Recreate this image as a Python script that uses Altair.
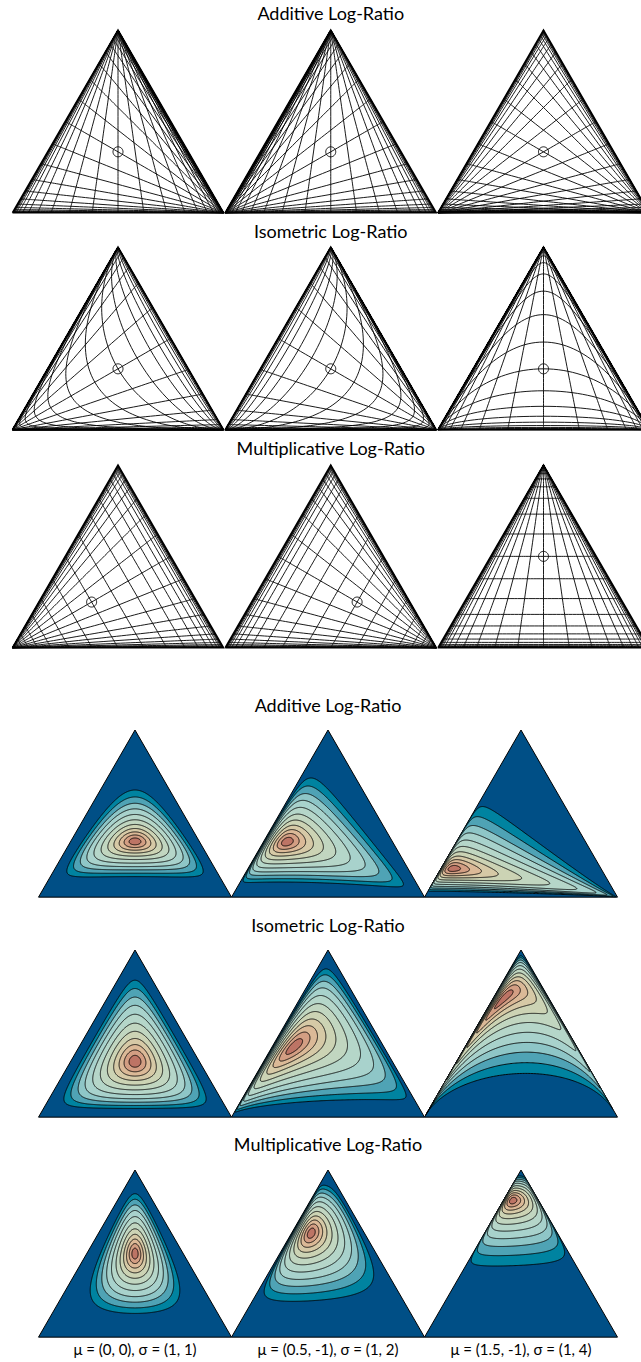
import numpy as np
import pandas as pd
import altair as alt

W, H = 641, 1362

row_titles = ["Additive Log-Ratio", "Isometric Log-Ratio", "Multiplicative Log-Ratio"]
transforms = ["alr", "ilr", "mlr"]

# coordinate lines: fixed levels of each log-ratio coordinate
grid_levels = [k * 0.5 for k in range(-12, 13)]
grid_span = (-14.0, 14.0)

# vertex that carries the first part in each grid column
first_vertex = ["left", "right", "top"]

# logistic-normal parameters of the density columns
mu_list = [(0.0, 0.0), (0.5, -1.0), (1.5, -1.0)]
sigma_list = [(1.0, 1.0), (1.0, 2.0), (1.0, 4.0)]
param_labels = ["μ = (0, 0), σ = (1, 1)", "μ = (0.5, -1), σ = (1, 2)", "μ = (1.5, -1), σ = (1, 4)"]

# density contours, given as Mahalanobis radii (outermost first)
contour_radii = [1.80, 1.55, 1.33, 1.14, 0.95, 0.77, 0.61, 0.47, 0.35, 0.24, 0.13]

# fill of each band, from outside all contours to inside the innermost one
band_colors = ["#004f86", "#0083a0", "#4fa3b5", "#8ec6c7", "#a8d2cc", "#b5d6c9",
               "#c1d6c0", "#ccd3b4", "#d6c9a6", "#dbb997", "#d39e83", "#bd7465"]

# layout
top_side, top_left, top_apex_y = 211.0, [12.5, 225.25, 438.0], [30.0, 247.0, 465.0]
bot_side, bot_left, bot_apex_y = 193.0, [38.5, 231.5, 424.5], [730.0, 950.0, 1170.0]
top_title_y, bot_title_y = [15.0, 233.0, 450.0], [707.0, 927.0, 1146.0]
label_y = 1350.0
circle_radius = 5.0


def triangle(left, apex_y, side):
    h = side * np.sqrt(3) / 2
    return {"left": (left, apex_y + h), "right": (left + side, apex_y + h),
            "top": (left + side / 2, apex_y)}


def roles_for(first):
    return {"top": ("top", "left", "right"),
            "left": ("left", "right", "top"),
            "right": ("right", "top", "left")}[first]


def softmax3(p, q, r):
    m = np.maximum(np.maximum(p, q), r)
    e = np.exp(np.stack([p - m, q - m, r - m]))
    return e / e.sum(axis=0)


def sigmoid(x):
    return np.exp(-np.logaddexp(0.0, -x))


def inverse(kind, u, v):
    u = np.asarray(u, dtype=float)
    v = np.asarray(v, dtype=float)
    if kind == "alr":
        return softmax3(np.zeros_like(u), u, v)
    if kind == "ilr":
        return softmax3(np.sqrt(1.5) * u, -v / np.sqrt(2), v / np.sqrt(2))
    f = sigmoid(u)
    return np.stack([f, (1 - f) * sigmoid(-v), (1 - f) * sigmoid(v)])


def to_px(parts, verts, roles):
    xs = sum(parts[i] * verts[roles[i]][0] for i in range(3))
    ys = sum(parts[i] * verts[roles[i]][1] for i in range(3))
    return xs, ys


def thin(xs, ys, tol=0.35):
    pts = [[round(float(xs[0]), 2), round(float(ys[0]), 2)]]
    for x, y in zip(xs[1:-1], ys[1:-1]):
        if abs(x - pts[-1][0]) + abs(y - pts[-1][1]) > tol:
            pts.append([round(float(x), 2), round(float(y), 2)])
    pts.append([round(float(xs[-1]), 2), round(float(ys[-1]), 2)])
    return pts


grid_feats, outline_feats, circle_feats = [], [], []
free = np.linspace(grid_span[0], grid_span[1], 281)
ang = np.linspace(0, 2 * np.pi, 41)
for r, kind in enumerate(transforms):
    for c in range(3):
        verts = triangle(top_left[c], top_apex_y[r], top_side)
        roles = roles_for(first_vertex[c])
        lines = []
        for g in grid_levels:
            fixed = np.full_like(free, g)
            for u, v in ((fixed, free), (free, fixed)):
                lines.append(thin(*to_px(inverse(kind, u, v), verts, roles)))
        grid_feats.append({"type": "Feature", "properties": {},
                           "geometry": {"type": "MultiLineString", "coordinates": lines}})
        ring = [list(verts["left"]), list(verts["right"]), list(verts["top"]), list(verts["left"])]
        outline_feats.append({"type": "Feature", "properties": {},
                              "geometry": {"type": "LineString", "coordinates": ring}})
        cx, cy = to_px(inverse(kind, 0.0, 0.0), verts, roles)
        circ = [[round(float(cx + circle_radius * np.cos(a)), 2),
                 round(float(cy + circle_radius * np.sin(a)), 2)] for a in ang]
        circle_feats.append({"type": "Feature", "properties": {},
                             "geometry": {"type": "LineString", "coordinates": circ}})

bg_feats, contour_feats = [], []
theta = np.linspace(0, 2 * np.pi, 1441)
for r, kind in enumerate(transforms):
    for c in range(3):
        verts = triangle(bot_left[c], bot_apex_y[r], bot_side)
        roles = roles_for("top")
        ring = [list(verts["left"]), list(verts["right"]), list(verts["top"]), list(verts["left"])]
        bg_feats.append({"type": "Feature", "properties": {"fill": band_colors[0]},
                         "geometry": {"type": "Polygon", "coordinates": [ring]}})
        (m1, m2), (s1, s2) = mu_list[c], sigma_list[c]
        for j, rad in enumerate(contour_radii, start=1):
            u = m1 + rad * s1 * np.cos(theta)
            v = m2 + rad * s2 * np.sin(theta)
            pts = thin(*to_px(inverse(kind, u, v), verts, roles), tol=0.25)
            pts[-1] = pts[0]
            contour_feats.append({"type": "Feature", "properties": {"fill": band_colors[j]},
                                  "geometry": {"type": "Polygon", "coordinates": [pts]}})

proj = dict(type="identity", scale=1, translate=[0, 0], reflectY=False)

bg = alt.Chart(alt.Data(values=bg_feats)).mark_geoshape(
    stroke="black", strokeWidth=1).encode(
    fill=alt.Fill("properties.fill:N", scale=None)).project(**proj)
contours = alt.Chart(alt.Data(values=contour_feats)).mark_geoshape(
    stroke="black", strokeWidth=0.9).encode(
    fill=alt.Fill("properties.fill:N", scale=None)).project(**proj)
grid = alt.Chart(alt.Data(values=grid_feats)).mark_geoshape(
    filled=False, stroke="black", strokeWidth=0.9).project(**proj)
outlines = alt.Chart(alt.Data(values=outline_feats)).mark_geoshape(
    filled=False, stroke="black", strokeWidth=1.6, strokeJoin="miter").project(**proj)
circles = alt.Chart(alt.Data(values=circle_feats)).mark_geoshape(
    filled=False, stroke="black", strokeWidth=0.9).project(**proj)

xs = alt.Scale(domain=[0, W], nice=False, zero=False)
ys = alt.Scale(domain=[H, 0], nice=False, zero=False)

top_mid = top_left[1] + top_side / 2
bot_mid = bot_left[1] + bot_side / 2
titles_df = pd.DataFrame({
    "text": row_titles + row_titles,
    "x": [top_mid] * 3 + [bot_mid] * 3,
    "y": top_title_y + bot_title_y,
})
labels_df = pd.DataFrame({
    "text": param_labels,
    "x": [l + bot_side / 2 for l in bot_left],
    "y": [label_y] * 3,
})

titles = alt.Chart(titles_df).mark_text(
    font="Lato", fontSize=18, baseline="middle", align="center", color="black").encode(
    x=alt.X("x:Q", scale=xs, axis=None), y=alt.Y("y:Q", scale=ys, axis=None), text="text:N")
labels = alt.Chart(labels_df).mark_text(
    font="Lato", fontSize=15, baseline="middle", align="center", color="black").encode(
    x=alt.X("x:Q", scale=xs, axis=None), y=alt.Y("y:Q", scale=ys, axis=None), text="text:N")

chart = alt.layer(bg, contours, grid, outlines, circles, titles, labels).properties(
    width=W, height=H, autosize=alt.AutoSizeParams(type="none"), padding=0,
    background="white").configure_view(stroke=None)

chart.save("out.html", embed_options={"renderer": "svg", "actions": False})
